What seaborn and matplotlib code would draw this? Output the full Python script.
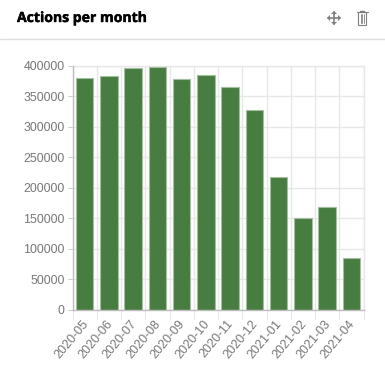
import matplotlib
matplotlib.use('Agg')
import matplotlib.pyplot as plt
import matplotlib.patheffects as pe
from matplotlib.lines import Line2D
from matplotlib.patches import Polygon, Rectangle
import seaborn as sns
import pandas as pd

W, H = 385, 377

# Values
months = ['2020-05', '2020-06', '2020-07', '2020-08', '2020-09', '2020-10',
          '2020-11', '2020-12', '2021-01', '2021-02', '2021-03', '2021-04']
actions = [381000, 383000, 396000, 398000, 378000, 386000,
           366000, 327000, 217000, 150000, 168000, 85000]
y_ticks = [0, 50000, 100000, 150000, 200000, 250000, 300000, 350000, 400000]

df = pd.DataFrame({'Month': months, 'Actions': actions})

sns.set_theme(style='white')
plt.rcParams['font.family'] = ['Liberation Sans', 'DejaVu Sans']

fig = plt.figure(figsize=(W / 100, H / 100), dpi=100)
ax = fig.add_axes([72.5 / W, 1 - 309.5 / H, 291 / W, 243.5 / H])

sns.barplot(x='Month', y='Actions', data=df, color='#477d40', saturation=1,
            width=0.72, edgecolor='#a3bea0', linewidth=0.8, ax=ax, zorder=3)

ax.set_xlim(-0.5, 11.5)
ax.set_ylim(0, 400000)
ax.set_yticks(y_ticks)
ax.set_xticks([i - 0.5 for i in range(13)], minor=False)
ax.set_xticklabels([''] * 13)
ax.set_xlabel('')
ax.set_ylabel('')
ax.grid(True, color='#e7e7e7', linewidth=1, zorder=0)
ax.set_axisbelow(True)

for name, spine in ax.spines.items():
    spine.set_color('#e7e7e7')
    spine.set_linewidth(1)
ax.spines['left'].set_color('#bdbdbd')
ax.spines['bottom'].set_color('#bdbdbd')
ax.spines['left'].set_zorder(5)
ax.spines['bottom'].set_zorder(5)

ax.tick_params(axis='y', length=5 * 0.72, width=0.72, color='#cccccc', pad=2,
               labelsize=8.9, labelcolor='#777777', left=True)
ax.tick_params(axis='x', length=9 * 0.72, width=0.72, color='#e4e4e4', bottom=True)

# Month labels sit under the bars, rotated
for i, m in enumerate(months):
    ax.annotate(m, xy=(i, 0), xycoords=('data', 'axes fraction'),
                xytext=(1, -9), textcoords='offset points',
                rotation=50, rotation_mode='anchor', ha='right', va='center',
                fontsize=9, color='#777777')

# Card header
fig.add_artist(Line2D([0, 1], [1 - 38.5 / H] * 2, color='#dcdcdc', linewidth=1))
fig.text(17 / W, 1 - 18 / H, 'Actions per month', family='Open Sans',
         fontweight='bold', fontsize=10.1, color='black', va='center', ha='left',
         path_effects=[pe.withStroke(linewidth=0.3, foreground='black')])


def px(x, y):
    return (x / W, 1 - y / H)


# Move icon
ic = '#7f7f7f'
cx, cy = 334, 18
fig.add_artist(Line2D([px(cx - 6, 0)[0], px(cx + 6, 0)[0]], [px(0, cy)[1]] * 2,
                      color=ic, linewidth=1.2))
fig.add_artist(Line2D([px(cx, 0)[0]] * 2, [px(0, cy - 6)[1], px(0, cy + 6)[1]],
                      color=ic, linewidth=1.2))
for dx, dy in [(1, 0), (-1, 0), (0, 1), (0, -1)]:
    tip = px(cx + 7 * dx, cy + 7 * dy)
    a = px(cx + 4 * dx + 3 * dy, cy + 4 * dy + 3 * dx)
    b = px(cx + 4 * dx - 3 * dy, cy + 4 * dy - 3 * dx)
    fig.add_artist(Polygon([tip, a, b], closed=True, facecolor=ic, edgecolor='none',
                           transform=fig.transFigure))

# Trash icon
fig.add_artist(Rectangle(px(358, 24.5), 8 / W, 12.5 / H, fill=False, edgecolor=ic,
                         linewidth=0.8, transform=fig.transFigure))
fig.add_artist(Line2D([px(356.5, 0)[0], px(367.5, 0)[0]], [px(0, 12)[1]] * 2,
                      color=ic, linewidth=0.8))
fig.add_artist(Line2D([px(360, 0)[0], px(364, 0)[0]], [px(0, 11)[1]] * 2,
                      color=ic, linewidth=1))
for lx in (360.5, 362, 363.5):
    fig.add_artist(Line2D([px(lx, 0)[0]] * 2, [px(0, 14)[1], px(0, 23)[1]],
                          color=ic, linewidth=0.6))

fig.savefig('out.png', dpi=100)
